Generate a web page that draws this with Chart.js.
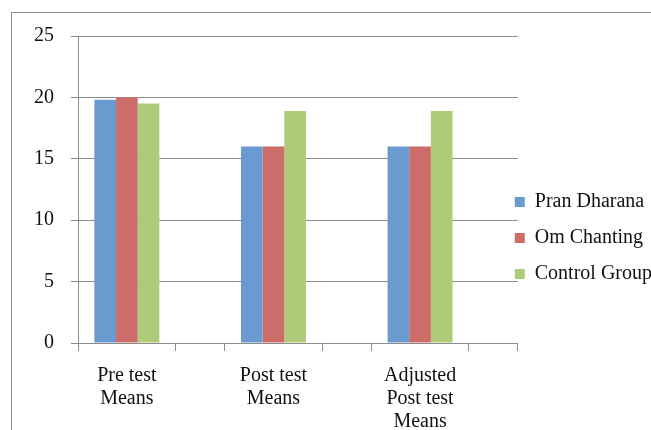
<!doctype html>
<html>

<head>
    <title>Means</title>
    <script src="https://cdn.jsdelivr.net/npm/chart.js"></script>
    <style>
        body {
            margin: 0;
            background: #fff;
            overflow: hidden;
            width: 651px;
            height: 430px;
        }

        .frame {
            position: absolute;
            left: 11px;
            top: 12px;
            width: 700px;
            height: 450px;
            border-left: 1px solid #8c8c8c;
            border-top: 1px solid #8c8c8c;
        }

        #grafico {
            position: absolute;
            left: 0;
            top: -6px;
        }
    </style>
</head>

<body>
    <div class="frame">
        <canvas id="grafico" width="669" height="439"></canvas>
    </div>

    <script>
        var categorias = [["Pre test", "Means"], ["Post test", "Means"], ["Adjusted", "Post test", "Means"]]
        var pranDharana = [19.8, 16, 16]
        var omChanting = [20, 16, 16]
        var controlGroup = [19.5, 18.9, 18.9]
        var ticksY = [0, 5, 10, 15, 20, 25]
        // marcas do eixo x: categorias nos inteiros, tracinhos nos tercos
        var ticksX = [-1 / 3, 0, 1 / 3, 2 / 3, 1, 4 / 3, 5 / 3, 2, 7 / 3, 8 / 3]

        var fonte = "'Liberation Serif', 'DejaVu Serif', serif"
        var cinza = '#8c8c8c'

        function pontos(valores) {
            return valores.map((v, i) => ({ x: i, y: v }))
        }

        // legenda fica colada no grafico, como no original
        var moverLegenda = {
            id: 'moverLegenda',
            afterLayout(chart) {
                chart.legend.left -= 19
                chart.legend.right -= 19
                chart.legend.top += 9
                chart.legend.bottom += 9
            }
        }

        var grafico = new Chart(document.getElementById('grafico').getContext('2d'), {
            type: 'bar',
            data: {
                datasets: [{
                    label: 'Pran Dharana',
                    backgroundColor: '#6B9AD0',
                    data: pontos(pranDharana)
                }, {
                    label: 'Om Chanting',
                    backgroundColor: '#CD6D69',
                    data: pontos(omChanting)
                }, {
                    label: 'Control Group',
                    backgroundColor: '#AECB7A',
                    data: pontos(controlGroup)
                }]
            },
            options: {
                responsive: false,
                animation: false,
                // o espaco minimo conta os tercos, por isso 3x
                categoryPercentage: 1.33,
                barPercentage: 1,
                layout: {
                    padding: { left: 5, top: 5, bottom: 0, right: 0 }
                },
                plugins: {
                    tooltip: { enabled: false },
                    legend: {
                        position: 'right',
                        labels: {
                            boxWidth: 10,
                            boxHeight: 10,
                            padding: 16,
                            color: '#111',
                            font: { family: fonte, size: 20 }
                        }
                    }
                },
                scales: {
                    x: {
                        type: 'linear',
                        min: -1 / 3,
                        max: 8 / 3,
                        offset: false,
                        afterBuildTicks: (eixo) => {
                            eixo.ticks = ticksX.map(v => ({ value: v }))
                        },
                        grid: {
                            offset: false,
                            drawOnChartArea: false,
                            tickLength: 8,
                            tickColor: (c) => Number.isInteger(c.tick.value) ? 'rgba(0,0,0,0)' : cinza,
                            color: cinza
                        },
                        border: { color: cinza },
                        ticks: {
                            padding: 13,
                            maxRotation: 0,
                            autoSkip: false,
                            color: '#111',
                            font: { family: fonte, size: 20, lineHeight: 1.15 },
                            callback: (v) => Number.isInteger(v) ? categorias[v] : ''
                        }
                    },
                    y: {
                        min: 0,
                        max: 25,
                        afterBuildTicks: (eixo) => {
                            eixo.ticks = ticksY.map(v => ({ value: v }))
                        },
                        grid: {
                            tickLength: 7,
                            color: cinza
                        },
                        border: { color: cinza },
                        ticks: {
                            padding: 17,
                            color: '#111',
                            font: { family: fonte, size: 20 }
                        }
                    }
                }
            },
            plugins: [moverLegenda]
        });
    </script>
</body>

</html>
